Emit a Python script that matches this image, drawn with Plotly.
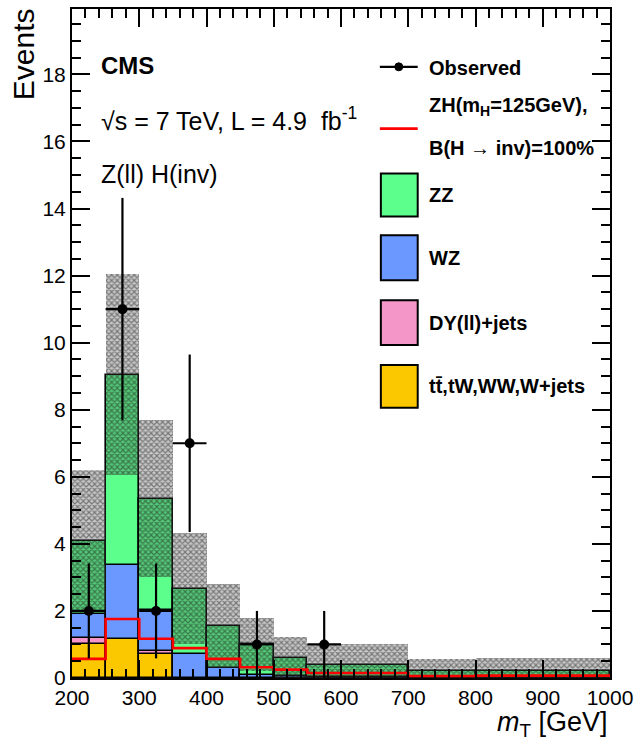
import numpy as np
import plotly.graph_objects as go

# m_T binning (GeV)
bin_edges = [200, 250, 300, 350, 400, 450, 500, 550, 700, 800, 1000]

# Expected backgrounds per bin (events)
bkg_top = [1.00, 1.16, 0.71, 0.00, 0.00, 0.00, 0.00, 0.00, 0.00, 0.00]   # tt, tW, WW, W+jets
bkg_dy = [0.19, 0.00, 0.09, 0.00, 0.00, 0.00, 0.00, 0.00, 0.00, 0.00]    # DY(ll)+jets
bkg_wz = [0.71, 2.21, 1.22, 0.71, 0.30, 0.10, 0.05, 0.03, 0.01, 0.01]    # WZ
bkg_zz = [2.20, 5.68, 3.33, 1.95, 1.25, 0.90, 0.55, 0.37, 0.19, 0.19]    # ZZ
bkg_unc = [2.10, 3.00, 2.35, 1.66, 1.25, 0.78, 0.63, 0.60, 0.37, 0.40]   # total uncertainty

# Signal: ZH(mH=125 GeV), B(H->inv)=100%
signal = [0.57, 1.76, 1.17, 0.89, 0.57, 0.32, 0.25, 0.15, 0.06, 0.07]

# Observed events
obs_x = [225, 275, 325, 375, 475, 575]
obs_n = [2, 11, 2, 7, 1, 1]
obs_halfwidth = [25, 25, 25, 25, 25, 25]

edges = np.array(bin_edges, dtype=float)
centers = 0.5 * (edges[:-1] + edges[1:])
widths = np.diff(edges)

FONT = "Liberation Sans, Arial, Helvetica, sans-serif"
C_TOP = "#FBC800"
C_DY = "#F596C8"
C_WZ = "#6A98FF"
C_ZZ = "#5CFF8C"

fig = go.Figure()

# Stacked background histogram
stack = [(bkg_top, C_TOP), (bkg_dy, C_DY), (bkg_wz, C_WZ), (bkg_zz, C_ZZ)]
base = np.zeros(len(centers))
for vals, col in stack:
    v = np.array(vals, dtype=float)
    fig.add_trace(go.Bar(
        x=centers, y=v, base=base.copy(), width=widths,
        marker=dict(color=col, line=dict(color="black", width=1.6)),
        showlegend=False, hoverinfo="skip",
    ))
    base = base + v
total = base

# Uncertainty band around the total expectation
unc = np.array(bkg_unc, dtype=float)
band_lo = np.clip(total - unc, 0, None)
band_hi = total + unc
fig.add_trace(go.Bar(
    x=centers, y=band_hi - band_lo, base=band_lo, width=widths,
    marker=dict(
        color="rgba(70,70,70,0.30)",
        line=dict(width=0),
        pattern=dict(shape="x", fgcolor="rgba(20,20,20,0.9)", size=4,
                     solidity=0.5, fillmode="overlay"),
    ),
    showlegend=False, hoverinfo="skip",
))

# Signal as a step line
sig_y = list(signal) + [signal[-1]]
fig.add_trace(go.Scatter(
    x=edges, y=sig_y, mode="lines", line=dict(color="#FF0000", width=2.6, shape="hv"),
    showlegend=False, hoverinfo="skip",
))

# Observed data with sqrt(N) errors
obs_err = np.sqrt(np.array(obs_n, dtype=float))
fig.add_trace(go.Scatter(
    x=obs_x, y=obs_n, mode="markers",
    marker=dict(color="black", size=10, symbol="circle"),
    error_y=dict(type="data", array=obs_err, color="black", thickness=2.2, width=0),
    error_x=dict(type="data", array=obs_halfwidth, color="black", thickness=2.2, width=0),
    showlegend=False, hoverinfo="skip",
))

# Pixel -> paper helpers for the hand-drawn legend and labels
L, R, T, B = 72, 612, 7, 678
def px(xp):
    return (xp - L) / (R - L)
def py(yp):
    return (B - yp) / (B - T)

shapes = []
annotations = []

# Legend: observed
shapes.append(dict(type="line", xref="paper", yref="paper",
                   x0=px(381), x1=px(419), y0=py(65), y1=py(65),
                   line=dict(color="black", width=2.2)))
shapes.append(dict(type="circle", xref="paper", yref="paper",
                   x0=px(396), x1=px(404), y0=py(61), y1=py(69),
                   fillcolor="black", line=dict(color="black", width=1)))
annotations.append(dict(text="<b>Observed</b>", x=px(428), y=py(66)))

# Legend: signal
shapes.append(dict(type="line", xref="paper", yref="paper",
                   x0=px(381), x1=px(419), y0=py(127), y1=py(127),
                   line=dict(color="#FF0000", width=2.6)))
annotations.append(dict(text="<b>ZH(m<sub>H</sub>=125GeV),</b>", x=px(428), y=py(105)))
annotations.append(dict(text="<b>B(H → inv)=100%</b>", x=px(428), y=py(146)))

# Legend: background boxes
boxes = [
    (172, 215, C_ZZ, "<b>ZZ</b>"),
    (234, 279, C_WZ, "<b>WZ</b>"),
    (299, 344, C_DY, "<b>DY(ll)+jets</b>"),
    (364, 407, C_TOP, "<b>tt\u0304,tW,WW,W+jets</b>"),
]
for y0, y1, col, label in boxes:
    shapes.append(dict(type="rect", xref="paper", yref="paper",
                       x0=px(382), x1=px(419), y0=py(y1), y1=py(y0),
                       fillcolor=col, line=dict(color="black", width=2)))
    annotations.append(dict(text=label, x=px(428), y=py(0.5 * (y0 + y1))))

for a in annotations:
    a.update(xref="paper", yref="paper", xanchor="left", yanchor="middle",
             showarrow=False, font=dict(family=FONT, size=20, color="black"))

# Top-left labels
for text, yy, size in [("<b>CMS</b>", 64, 24),
                       ("√s = 7 TeV, L = 4.9  fb<sup>-1</sup>", 117, 25),
                       ("Z(ll) H(inv)", 172, 25)]:
    annotations.append(dict(text=text, xref="paper", yref="paper",
                            x=px(99), y=py(yy), xanchor="left", yanchor="middle",
                            showarrow=False, font=dict(family=FONT, size=size, color="black")))

# Axis titles
annotations.append(dict(text="Events", xref="paper", yref="paper",
                        x=px(23), y=py(4), xanchor="center", yanchor="top",
                        textangle=-90, showarrow=False,
                        font=dict(family=FONT, size=30, color="black")))
annotations.append(dict(text="<i>m</i><sub>T</sub> [GeV]", xref="paper", yref="paper",
                        x=1.0, y=py(724), xanchor="right", yanchor="middle",
                        showarrow=False, font=dict(family=FONT, size=27, color="black")))

fig.update_layout(
    width=640, height=745,
    margin=dict(l=L, r=640 - R, t=T, b=745 - B),
    paper_bgcolor="white", plot_bgcolor="white",
    barmode="overlay", bargap=0,
    shapes=shapes, annotations=annotations,
    showlegend=False,
)
fig.update_xaxes(
    range=[200, 1000], tickvals=[200, 300, 400, 500, 600, 700, 800, 900, 1000],
    ticks="inside", ticklen=18, tickwidth=2, tickcolor="black",
    minor=dict(dtick=20, ticks="inside", ticklen=9, tickwidth=2, tickcolor="black"),
    showline=True, linecolor="black", linewidth=2, mirror="ticks",
    showgrid=False, zeroline=False,
    tickfont=dict(family=FONT, size=21, color="black"),
)
fig.update_yaxes(
    range=[0, 19.95], tickvals=list(range(0, 20, 2)),
    ticks="inside", ticklen=18, tickwidth=2, tickcolor="black",
    minor=dict(dtick=0.5, ticks="inside", ticklen=9, tickwidth=2, tickcolor="black"),
    showline=True, linecolor="black", linewidth=2, mirror="ticks",
    showgrid=False, zeroline=False,
    tickfont=dict(family=FONT, size=21, color="black"),
)

fig.write_html("out.html")
